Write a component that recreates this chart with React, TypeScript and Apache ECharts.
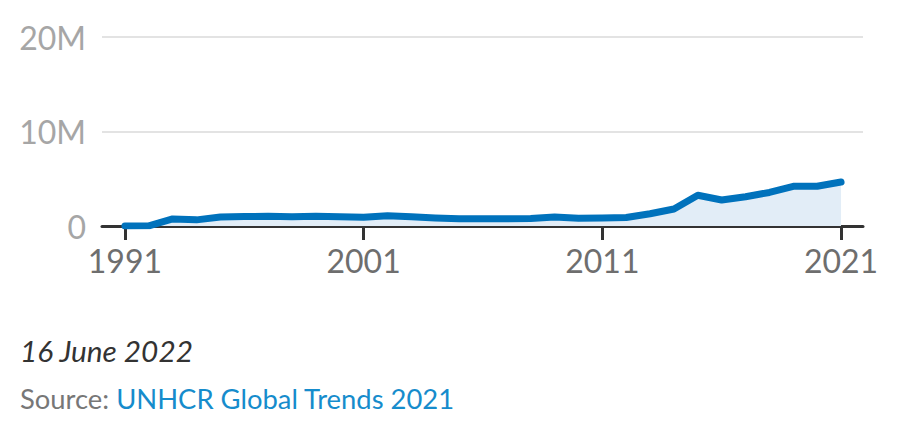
import React, { useEffect, useRef } from "react";
import * as echarts from "echarts";

const years = [1991,1992,1993,1994,1995,1996,1997,1998,1999,2000,2001,2002,2003,2004,2005,2006,2007,2008,2009,2010,2011,2012,2013,2014,2015,2016,2017,2018,2019,2020,2021];
const valuesM = [0.0,0.02,0.75,0.65,0.95,1.0,1.03,0.97,1.03,0.97,0.92,1.08,0.97,0.85,0.78,0.76,0.76,0.8,0.94,0.83,0.85,0.9,1.3,1.8,3.25,2.75,3.1,3.55,4.2,4.2,4.65];
const xTickYears = [1991, 2001, 2011, 2021];
const dateText = "16 June 2022";
const sourceLabel = "Source: ";
const sourceLink = "UNHCR Global Trends 2021";

export default function App() {
  const ref = useRef<HTMLDivElement>(null);
  useEffect(() => {
    const chart = echarts.init(ref.current!, undefined, { renderer: "svg" });
    chart.setOption({
      animation: false,
      grid: { left: 102, right: 34, top: 37, bottom: 202, containLabel: false },
      xAxis: {
        type: "value",
        min: 1990.04,
        max: 2021.92,
        splitLine: { show: false },
        axisLine: { show: true, lineStyle: { color: "#333333", width: 3 } },
        axisTick: { show: true, customValues: xTickYears, length: 14, lineStyle: { color: "#333333", width: 3 } },
        axisLabel: {
          customValues: xTickYears,
          color: "#6e6e6e",
          fontFamily: "Lato",
          fontSize: 32,
          margin: 18,
          formatter: (v: number) => String(Math.round(v)),
        },
      },
      yAxis: {
        type: "value",
        min: 0,
        max: 20,
        interval: 10,
        axisLine: { show: false },
        axisTick: { show: false },
        splitLine: { show: true, lineStyle: { color: "#e3e3e3", width: 2 } },
        axisLabel: {
          color: "#a6a6a6",
          fontFamily: "Lato",
          fontSize: 32,
          margin: 16,
          formatter: (v: number) => (v === 0 ? "0" : v + "M"),
        },
      },
      series: [
        {
          type: "line",
          data: years.map((y, i) => [y, valuesM[i]]),
          showSymbol: false,
          symbol: "none",
          lineStyle: { color: "#0072bc", width: 7, cap: "round", join: "round" },
          areaStyle: { color: "#e2edf7", opacity: 1 },
          z: 3,
        },
      ],
      graphic: [
        {
          type: "text",
          left: 20,
          top: 335,
          style: {
            text: dateText,
            fontFamily: "Lato",
            fontStyle: "italic",
            fontSize: 29.8,
            fill: "#333333",
          },
        },
        {
          type: "text",
          left: 20,
          top: 385,
          style: {
            text: "{a|" + sourceLabel + "}{b|" + sourceLink + "}",
            rich: {
              a: { fontFamily: "Lato", fontSize: 27.4, fill: "#777777", color: "#777777" },
              b: { fontFamily: "Lato", fontSize: 27.4, fill: "#168ccc", color: "#168ccc" },
            },
          },
        },
      ],
    });
    return () => chart.dispose();
  }, []);
  return <div ref={ref} style={{ position: "absolute", left: 0, top: 0, width: 897, height: 428 }} />;
}
